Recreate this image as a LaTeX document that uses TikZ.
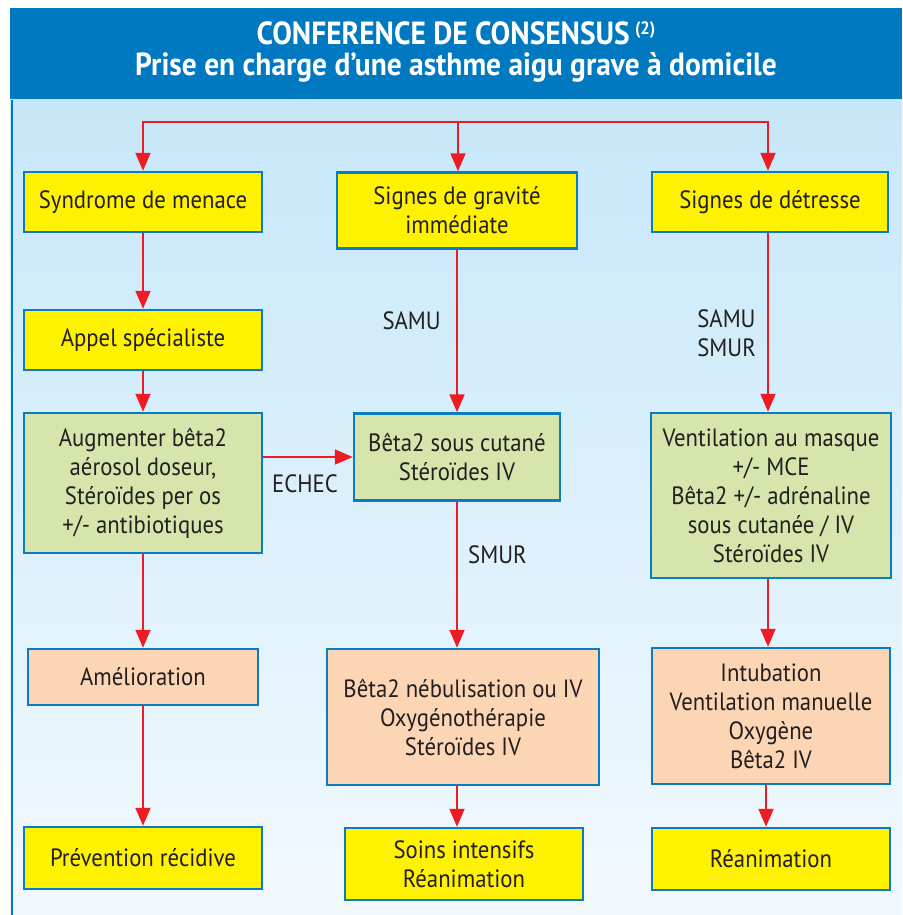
\documentclass[tikz,border=0pt]{standalone}
\usepackage{fontspec}
\setmainfont{PT Sans}
\newfontfamily\titlefont[FakeStretch=0.92]{PT Sans}
\newfontfamily\bodyfont[FakeStretch=0.91]{PT Sans}
\usetikzlibrary{arrows.meta, positioning, calc}
\definecolor{headerBlue}{HTML}{0079C1}
\definecolor{panelTop}{HTML}{C6E7F9}
\definecolor{panelBottom}{HTML}{F2F9FE}
\definecolor{boxBorder}{HTML}{0A7CC4}
\definecolor{boxYellow}{HTML}{FFF200}
\definecolor{boxGreen}{HTML}{D5E5AB}
\definecolor{boxPeach}{HTML}{FCD5B5}
\definecolor{arrowRed}{HTML}{ED1C24}
\definecolor{textDark}{HTML}{231F20}

\begin{document}
\begin{tikzpicture}[
    x=1pt, y=-1pt,
    every node/.style={font=\bodyfont\fontsize{25}{29}\selectfont, text=textDark},
    box/.style={rectangle, draw=boxBorder, line width=2.5pt, align=center, inner sep=0pt},
    alarm/.style={box, fill=boxYellow},
    treat/.style={box, fill=boxGreen},
    escal/.style={box, fill=boxPeach},
    route/.style={inner sep=0pt, align=left},
    heading/.style={font=\titlefont\bfseries\fontsize{32}{32}\selectfont, text=white, anchor=base},
    arrow_red/.style={-{Triangle[length=18pt, width=15pt]}, line width=2pt, draw=arrowRed},
]

% ====== FRAME ======
\useasboundingbox (0,0) rectangle (902,915);
\fill[white] (0,0) rectangle (902,915);
\fill[headerBlue] (10,8) rectangle (902,100);
\shade[top color=panelTop, bottom color=panelBottom] (10,100) rectangle (902,915);
\draw[headerBlue, line width=2pt] (12,100) -- (12,915);

\node[heading] (title1) at (456,45) {CONFERENCE DE CONSENSUS\,{\fontsize{18}{18}\selectfont\raisebox{10pt}{(2)}}};
\node[heading] (title2) at (456,76) {Prise en charge d’une asthme aigu grave à domicile};

% ====== TOP ROW ======
\coordinate (split) at (458,122);
\node[alarm, minimum width=238pt, minimum height=60pt] (menace) at (143,202) {Syndrome de menace};
\node[alarm, minimum width=240pt, minimum height=76pt] (gravite) at (457,210.5) {Signes de gravité\\immédiate};
\node[alarm, minimum width=236pt, minimum height=60pt] (detresse) at (770,202) {Signes de détresse};

% ====== LEFT COLUMN ======
\node[alarm, minimum width=238pt, minimum height=60pt, below=75.5pt of menace] (appel) {Appel spécialiste};
\node[treat, minimum width=238pt, minimum height=140pt, below=40.5pt of appel] (augmenter) {Augmenter bêta2\\aérosol doseur,\\Stéroïdes per os\\+/- antibiotiques};
\node[escal, minimum width=230pt, minimum height=56pt, below=93.5pt of augmenter] (amelioration) {Amélioration};
\node[alarm, minimum width=238pt, minimum height=62pt, below=119.5pt of amelioration] (prevention) {Prévention récidive};

% ====== MIDDLE COLUMN ======
\node[treat, minimum width=206pt, minimum height=87pt] (beta2_sc) at (457,457) {Bêta2 sous cutané\\Stéroïdes IV};
\node[escal, minimum width=272pt, minimum height=136pt] (nebul) at (463,717) {Bêta2 nébulisation ou IV\\Oxygénothérapie\\Stéroïdes IV};
\node[alarm, minimum width=238pt, minimum height=72pt, below=40.5pt of nebul, xshift=1pt] (soins) {Soins intensifs\\Réanimation};

% ====== RIGHT COLUMN ======
\node[treat, minimum width=240pt, minimum height=165pt] (ventilation) at (771,495.5) {Ventilation au masque\\+/- MCE\\Bêta2 +/- adrénaline\\sous cutanée / IV\\Stéroïdes IV};
\node[escal, minimum width=238pt, minimum height=136pt, below=67.5pt of ventilation] (intubation) {Intubation\\Ventilation manuelle\\Oxygène\\Bêta2 IV};
\node[alarm, minimum width=238pt, minimum height=62pt, below=41.5pt of intubation] (reanimation) {Réanimation};

% --- labels ---
\node[route, anchor=base east] (lbl_samu) at (441,329) {SAMU};
\node[route, anchor=base west] (lbl_smur) at (468,563) {SMUR};
\node[route, anchor=base west] (lbl_echec) at (272,492) {ECHEC};
\node[route, anchor=north east] (lbl_samu_smur) at (756,309) {SAMU\\SMUR};

% --- arrows ---
\draw[arrow_red] (split) -| (menace);
\draw[arrow_red] (split) -- (split |- gravite.north);
\draw[arrow_red] (split) -| ([xshift=-2pt]detresse.north);

\draw[arrow_red] (menace) -- (appel);
\draw[arrow_red] (appel) -- (augmenter);
\draw[arrow_red] (augmenter) -- (amelioration);
\draw[arrow_red] (amelioration) -- (prevention);
\draw[arrow_red] (augmenter.east |- beta2_sc.west) -- (beta2_sc.west);

\draw[arrow_red] (gravite) -- (beta2_sc);
\draw[arrow_red] (beta2_sc.south) -- (beta2_sc.south |- nebul.north);
\draw[arrow_red] (beta2_sc.south |- nebul.south) -- (beta2_sc.south |- soins.north);

\draw[arrow_red] ([xshift=-2pt]detresse.south) -- ([xshift=-2pt]detresse.south |- ventilation.north);
\draw[arrow_red] ([xshift=-3pt]ventilation.south) -- ([xshift=-3pt]ventilation.south |- intubation.north);
\draw[arrow_red] ([xshift=-5pt]intubation.south) -- ([xshift=-5pt]intubation.south |- reanimation.north);

\end{tikzpicture}
\end{document}
